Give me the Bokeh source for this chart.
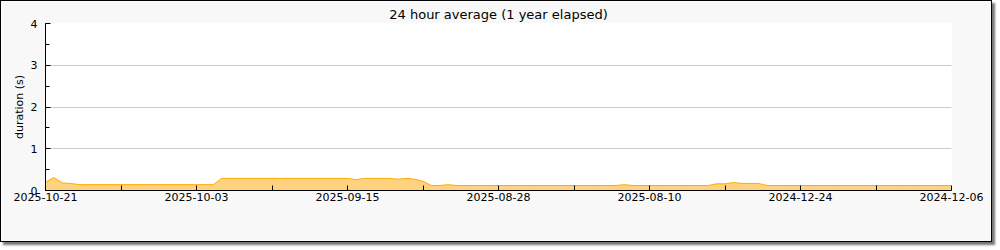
from bokeh.plotting import figure
from bokeh.models import FixedTicker, SingleIntervalTicker, Range1d, ColumnDataSource
from bokeh.embed import file_html
from bokeh.resources import INLINE

# ---- data ----
title_text = "24 hour average (1 year elapsed)"
y_label = "duration (s)"
tick_labels = ["2025-10-21", "2025-10-03", "2025-09-15", "2025-08-28",
               "2025-08-10", "2024-12-24", "2024-12-06"]
# one value per day, left to right
durations = [
    0.20, 0.31, 0.18, 0.17, 0.14, 0.14, 0.14, 0.14, 0.14, 0.14,
    0.14, 0.14, 0.14, 0.14, 0.14, 0.14, 0.14, 0.14, 0.14, 0.14,
    0.14, 0.29, 0.29, 0.29, 0.29, 0.29, 0.29, 0.29, 0.29, 0.29,
    0.29, 0.29, 0.29, 0.29, 0.29, 0.29, 0.29, 0.26, 0.29, 0.29,
    0.29, 0.29, 0.27, 0.29, 0.27, 0.22, 0.12, 0.12, 0.14, 0.12,
    0.12, 0.12, 0.12, 0.12, 0.12, 0.12, 0.12, 0.12, 0.12, 0.12,
    0.12, 0.12, 0.12, 0.12, 0.12, 0.12, 0.12, 0.12, 0.12, 0.14,
    0.12, 0.12, 0.12, 0.12, 0.12, 0.12, 0.12, 0.12, 0.12, 0.12,
    0.16, 0.16, 0.19, 0.17, 0.17, 0.17, 0.12, 0.12, 0.12, 0.12,
    0.12, 0.12, 0.12, 0.12, 0.12, 0.12, 0.12, 0.12, 0.12, 0.12,
    0.12, 0.12, 0.12, 0.12, 0.12, 0.12, 0.12, 0.12, 0.12,
]
days = list(range(len(durations)))

src = ColumnDataSource(dict(x=days, y=durations, y0=[0] * len(days)))

p = figure(width=992, height=242, output_backend="svg", toolbar_location=None,
           x_range=Range1d(0, 108), y_range=Range1d(0, 4),
           min_border_left=44, min_border_right=42, min_border_top=22,
           min_border_bottom=53)
p.styles = {"border": "1px solid black", "box-shadow": "3px 3px 2px #777"}
p.background_fill_color = "white"
p.border_fill_color = "#f8f8f8"
p.outline_line_color = None

p.title.text = title_text
p.title.align = "center"
p.title.text_font = "DejaVu Sans"
p.title.text_font_size = "13px"
p.title.text_font_style = "normal"
p.title.text_color = "black"
p.title.standoff = 3

p.varea(x="x", y1="y0", y2="y", source=src, fill_color="#ffd27f", fill_alpha=1)
p.line(x="x", y="y", source=src, line_color="#ffaa00", line_width=1)

# x axis
xa = p.xaxis[0]
xa.ticker = FixedTicker(ticks=list(range(0, 109, 9)))
overrides = {}
for i in range(0, 109, 9):
    overrides[i] = tick_labels[i // 18] if i % 18 == 0 else ""
xa.major_label_overrides = overrides
xa.major_tick_in = 5
xa.major_tick_out = 0
xa.minor_tick_line_color = None
xa.axis_line_color = "black"
xa.major_tick_line_color = "black"
xa.major_label_text_font = "DejaVu Sans"
xa.major_label_text_font_size = "11px"
xa.major_label_text_color = "black"
xa.major_label_standoff = 2

# y axis
ya = p.yaxis[0]
ya.ticker = SingleIntervalTicker(interval=1, num_minor_ticks=2)
ya.major_tick_in = 5
ya.major_tick_out = 0
ya.minor_tick_in = 4
ya.minor_tick_out = 0
ya.axis_line_color = "black"
ya.major_tick_line_color = "black"
ya.minor_tick_line_color = "black"
ya.major_label_text_font = "DejaVu Sans"
ya.major_label_text_font_size = "11px"
ya.major_label_text_color = "black"
ya.major_label_standoff = 8
ya.axis_label = y_label
ya.axis_label_text_font = "DejaVu Sans"
ya.axis_label_text_font_size = "11px"
ya.axis_label_text_font_style = "normal"
ya.axis_label_text_color = "black"
ya.axis_label_standoff = 2

p.xgrid.grid_line_color = None
p.ygrid.grid_line_color = "#cccccc"
p.ygrid.ticker = FixedTicker(ticks=[1, 2, 3, 4])

open("out.html", "w").write(file_html(p, INLINE))
